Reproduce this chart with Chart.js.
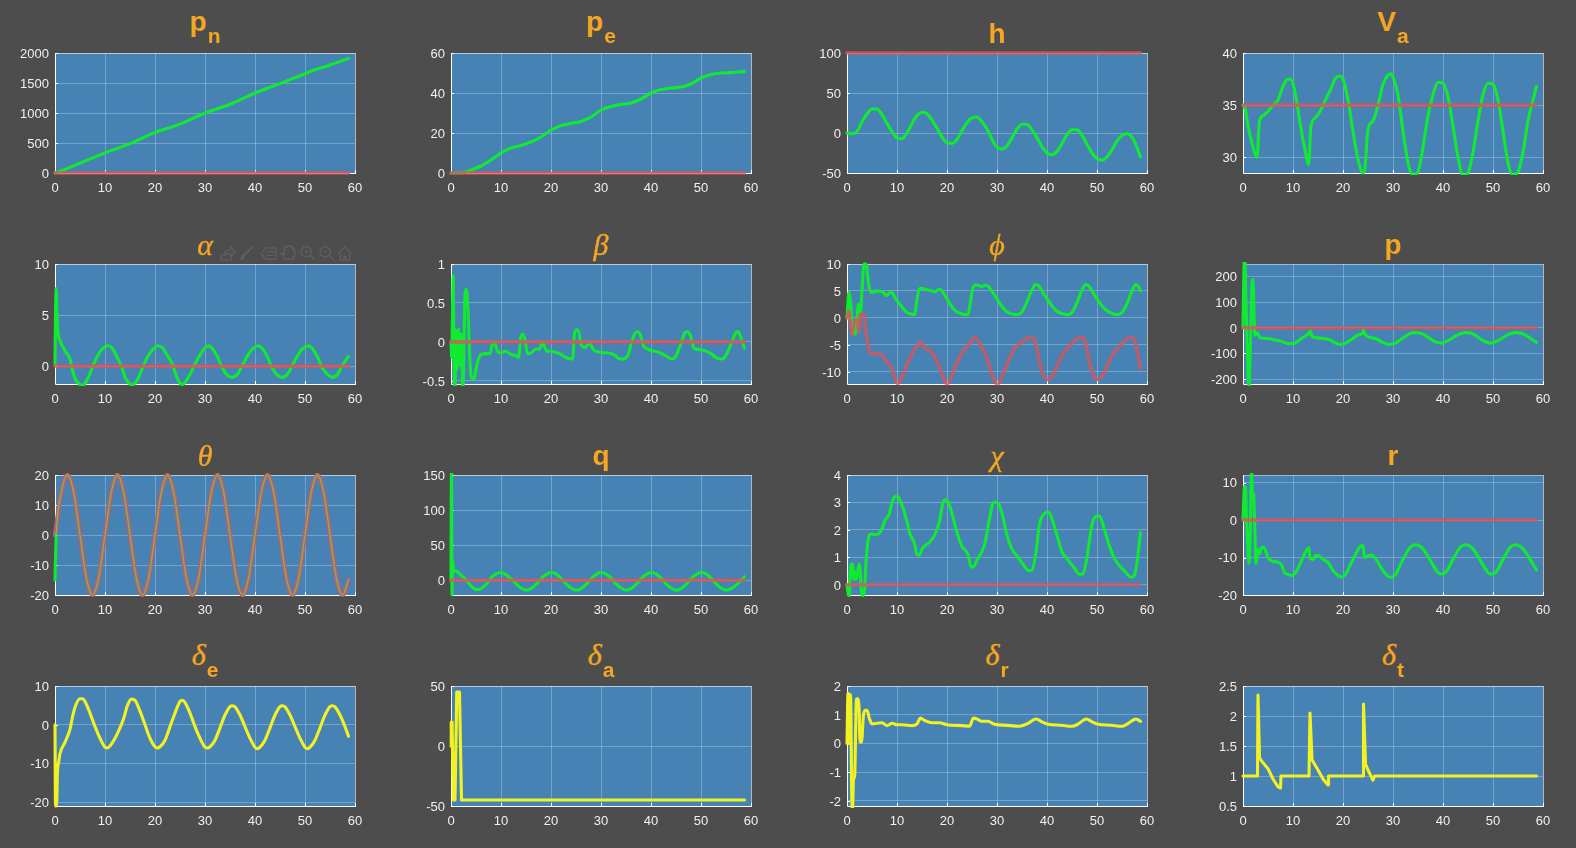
<!DOCTYPE html>
<html>
<head>
<meta charset="utf-8">
<title>UAV states</title>
<script src="https://cdn.jsdelivr.net/npm/chart.js@4"></script>
<style>
html, body { margin: 0; padding: 0; background: #4d4d4d; overflow: hidden; }
#page { position: relative; width: 1576px; height: 848px; }
canvas { position: absolute; }
.ttl { position: absolute; width: 300px; text-align: center; color: #f5a623; white-space: nowrap;
       font: bold 28px/28px "Liberation Sans", Arial, sans-serif; }
.ttl.gr { font: italic 30px/28px "Liberation Serif", serif; -webkit-text-stroke: 0.4px #f5a623; }
.ttl sub { font: bold 21px/21px "Liberation Sans", Arial, sans-serif; position: relative; top: 12px; margin-left: 1px; vertical-align: baseline; -webkit-text-stroke: 0; }
#tools { position: absolute; left: 217px; top: 245px; }
</style>
</head>
<body>
<div id="page"></div>
<script>
// time axis and tick labels
var xTicks = [0, 10, 20, 30, 40, 50, 60];
var endT = [0, 58.7];

// pn
var pnT = [0, 2, 5, 10, 15, 20, 25, 30, 35, 40, 45, 50, 52, 55, 58.7];
var pnV = [0, 60, 165, 335, 490, 677, 815, 1000, 1145, 1333, 1490, 1655, 1720, 1800, 1910];
var pnRef = [0, 0];
var pnTicks = [0, 500, 1000, 1500, 2000];

// pe
var peT = [0, 2, 4, 6, 8, 10, 12, 14, 16, 18, 20, 22, 24, 26, 28, 30, 32, 34, 36, 38, 40, 42, 44, 46, 48, 50, 52, 54, 56, 58.7];
var peV = [0, 0, 1.5, 3.5, 6.5, 10, 12.5, 13.8, 15.5, 18, 21.5, 23.7, 24.8, 25.8, 28, 31.5, 33.3, 34.3, 35, 37, 40, 41.7, 42.5, 43, 44.5, 47.5, 49.3, 50, 50.2, 50.8];
var peRef = [0, 0];
var peTicks = [0, 20, 40, 60];

// h
var hT = [0, 1, 2, 3, 4, 5, 6, 7, 8, 9, 10, 11, 12, 13, 14, 15, 16, 17, 18, 19, 20, 21, 22, 23, 24, 25, 26, 27, 28, 29, 30, 31, 32, 33, 34, 35, 36, 37, 38, 39, 40, 41, 42, 43, 44, 45, 46, 47, 48, 49, 50, 51, 52, 53, 54, 55, 56, 57, 58, 58.7];
var hV = [0, -1, 2, 14, 24, 30, 30, 23, 12, 2, -6, -7, 0, 12, 22, 26, 24, 16, 6, -5, -12, -13, -8, 3, 13, 19, 20, 14, 5, -8, -18, -20, -16, -6, 5, 11, 11, 4, -6, -17, -25, -27, -23, -13, -2, 4, 4, -3, -14, -25, -32, -34, -30, -21, -10, -3, -1, -5, -18, -30];
var hRef = [100, 100];
var hTicks = [-50, 0, 50, 100];

// Va
var vaT = [0, 0.5, 1, 2, 2.8, 3.3, 4, 5, 6, 7, 8, 9, 9.5, 10.5, 11.5, 12.5, 13.1, 13.6, 14.5, 15.5, 16.5, 17.5, 18.5, 19.3, 20, 21, 22, 23, 24, 24.4, 25, 26, 27, 28, 29, 29.5, 30, 31, 32, 33, 34, 35, 36, 37, 38, 39, 40, 41, 42, 43, 44, 45, 46, 47, 48, 49, 50, 51, 52, 53, 54, 55, 56, 57, 58, 58.7];
var vaV = [35, 34.5, 33, 31, 30, 33.5, 34, 34.4, 35, 35.5, 36.8, 37.5, 37.5, 36, 33, 30.5, 29.3, 33, 33.8, 34.5, 35.5, 36.5, 37.6, 37.8, 37.5, 35.5, 32.5, 29.8, 28.5, 29, 32.7, 33.5, 35, 37, 37.9, 38, 37.7, 36, 32.5, 29.5, 28.3, 28.6, 31, 34, 36, 37.2, 37.1, 35.8, 33, 30, 28.3, 28.5, 30.5, 33.5, 36, 37.1, 37, 35.5, 32.5, 29.5, 28.3, 28.6, 30.5, 33.5, 35.5, 36.8];
var vaRef = [35, 35];
var vaTicks = [30, 35, 40];

// alpha
var alphaT = [0, 0.1, 0.25, 0.4, 0.6, 1, 2, 3, 3.5, 4, 5, 5.5, 6, 7, 8, 9, 10, 10.7, 11.5, 12.5, 13.5, 14, 15, 15.5, 16.5, 17.5, 18.5, 19.5, 20.5, 21.5, 22.5, 23.5, 24, 25, 25.5, 26, 27, 28, 29, 30, 30.7, 31.5, 32.5, 33.5, 34.5, 35.5, 36.5, 37.5, 38.5, 39.5, 40.7, 41.5, 42.5, 43.5, 44.5, 45.5, 46.5, 47.5, 48.5, 49.5, 50.7, 51.5, 52.5, 53.5, 54.5, 55.5, 56.5, 57.5, 58.7];
var alphaV = [0.2, 5, 7.6, 5, 3.3, 2.5, 1.5, 0.7, -0.4, -1.2, -1.8, -1.85, -1.7, -0.7, 0.5, 1.4, 1.9, 2, 1.7, 0.8, -0.3, -1.1, -1.75, -1.85, -1.3, -0.2, 0.9, 1.6, 2, 1.8, 1, 0.2, -0.6, -1.7, -1.8, -1.6, -0.8, 0.2, 1.1, 1.8, 2, 1.7, 0.9, -0.2, -0.9, -1.1, -0.8, 0.1, 1, 1.7, 2, 1.7, 0.9, -0.2, -0.9, -1.1, -0.8, 0.1, 1, 1.7, 2, 1.7, 0.9, -0.2, -0.8, -1.1, -0.8, 0.1, 0.95];
var alphaRef = [0, 0];
var alphaTicks = [0, 5, 10];

// beta
var betaT = [0, 0.15, 0.3, 0.45, 0.6, 0.8, 1, 1.2, 1.5, 1.8, 2, 2.4, 2.8, 3.1, 3.4, 3.8, 4.2, 4.6, 5, 5.5, 6, 7, 7.8, 8.3, 8.7, 9.3, 10, 10.8, 12, 13, 13.5, 14, 14.4, 14.8, 15.3, 16, 17, 17.7, 18.3, 19.2, 20, 22, 23, 24.3, 24.7, 25.1, 25.5, 26.2, 26.8, 27.7, 28.5, 29.5, 31, 32.5, 33.5, 34.5, 35.5, 36, 36.7, 37.2, 37.8, 38.5, 39, 40, 41.5, 43, 44.2, 45, 46, 46.8, 47.3, 47.9, 48.6, 50, 52, 53, 54.2, 55, 56, 57, 57.5, 58, 58.7];
var betaV = [0, -0.2, 0.4, 0.85, -0.2, -0.6, 0.15, -0.35, 0.17, -0.3, 0.1, -0.6, 0.6, 0.68, 0.4, -0.25, -0.48, -0.48, -0.35, -0.22, -0.16, -0.15, -0.15, -0.02, -0.01, -0.12, -0.14, -0.12, -0.16, -0.18, -0.2, 0.08, 0.1, 0.03, -0.15, -0.14, -0.09, -0.09, -0.01, -0.12, -0.12, -0.16, -0.2, -0.22, 0.1, 0.16, 0.14, -0.06, -0.07, -0.02, -0.1, -0.13, -0.14, -0.16, -0.21, -0.22, -0.15, -0.03, 0.1, 0.13, 0.1, -0.05, -0.08, -0.11, -0.13, -0.18, -0.22, -0.18, -0.02, 0.12, 0.13, 0.08, -0.08, -0.1, -0.15, -0.2, -0.22, -0.17, -0.03, 0.12, 0.13, 0.05, -0.08];
var betaRef = [0, 0];
var betaTicks = [-0.5, 0, 0.5, 1];

// phi
var phiT = [0, 0.4, 0.7, 1, 1.3, 1.7, 2, 2.3, 2.7, 3, 3.4, 3.8, 4.3, 4.7, 5.2, 6, 6.7, 7.3, 7.9, 8.6, 9, 9.6, 11, 12, 13, 13.5, 14, 14.5, 15, 16, 17, 17.5, 18.5, 19, 20, 21, 22, 23, 24.2, 24.7, 25.3, 26, 26.8, 27.8, 28.5, 30, 31, 32, 33, 34, 35, 36, 37, 37.7, 38.3, 39, 40, 41, 42, 43, 44, 45, 46, 47, 47.8, 48.3, 49, 50, 51, 52, 53, 54, 55, 56, 57, 57.8, 58.3, 58.7];
var phiV = [0, 4.8, 3, -1, -3, -3, 0, 2.5, 1, 5, 10, 10, 6.5, 4.8, 4.7, 5, 4.9, 4.7, 4.1, 4.7, 4.7, 3.7, 2, 1, 0.7, 0.6, 3.5, 5.4, 5.5, 5.2, 5, 4.8, 5.3, 5, 3.5, 2, 1.1, 0.7, 0.6, 3, 5.9, 6.1, 5.8, 6.1, 5.6, 3.5, 2.1, 1.1, 0.7, 0.6, 1.1, 3, 5.2, 6.2, 6, 5, 3.5, 2.2, 1.2, 0.8, 0.6, 1, 2.8, 5.2, 6.2, 6, 5, 3.5, 2.2, 1.3, 0.8, 0.6, 1, 2.6, 5, 6.2, 5.8, 5];
var phiRefT = [0, 0.4, 0.7, 1, 1.3, 1.7, 2, 2.4, 2.7, 3, 3.4, 3.8, 4.3, 4.7, 5.5, 6, 7, 8, 9, 9.5, 10, 10.5, 11, 12, 13, 14, 14.6, 15.5, 17, 18, 19, 20, 20.5, 21.5, 22.5, 24, 25, 25.5, 26, 27, 28, 29, 30, 30.5, 31.5, 32.5, 33.5, 35, 36, 37, 37.5, 38, 39, 40, 41, 42, 43, 44, 45, 46, 47, 47.5, 48, 49, 50, 51, 52, 53, 54, 55, 56, 56.8, 57.5, 58, 58.7];
var phiRef = [0, 1.2, -1, -3.2, -1.5, -0.5, -0.3, -2.7, 0.5, 0.8, 0.5, -2.5, -5.5, -6.6, -6.7, -6.6, -7, -8.2, -9.5, -11, -12.2, -12, -11, -8.7, -6.7, -5.3, -4.5, -5.5, -6.5, -8, -10.5, -12.3, -11.8, -9.5, -7.3, -5.3, -4.3, -3.6, -4, -5.5, -7.5, -10.5, -12.3, -12, -9.8, -7.5, -5.7, -4.5, -3.8, -3.6, -4, -6, -10, -11.5, -11, -9, -7, -5.7, -4.7, -3.9, -3.6, -4, -6, -10, -11.4, -10.9, -9, -7, -5.8, -4.8, -3.9, -3.6, -4, -6, -9.5];
var phiTicks = [-10, -5, 0, 5, 10];

// p
var pT = [0, 0.3, 0.6, 1, 1.2, 1.5, 1.8, 1.95, 2.4, 2.8, 3.2, 3.5, 5, 7, 8, 9, 10, 11, 12, 13, 13.5, 13.7, 14.2, 16, 17.5, 18.5, 19.5, 20.5, 22, 23, 24, 24.1, 24.3, 25, 26.5, 28, 29.3, 30.5, 32, 33.5, 34.5, 36, 38, 39.5, 41, 43, 44.5, 46, 48, 49.5, 51, 53, 54.5, 56, 58, 58.7];
var pV = [0, 300, 100, -180, -225, -50, 175, 188, -30, -20, -32, -40, -42, -50, -55, -62, -62, -52, -38, -25, -12, -30, -37, -42, -48, -60, -65, -60, -42, -28, -18, -8, -22, -35, -42, -58, -65, -60, -40, -22, -19, -25, -50, -60, -50, -27, -19, -24, -50, -60, -50, -27, -19, -24, -48, -57];
var pRef = [0, 0];
var pTicks = [-200, -100, 0, 100, 200];

// theta
var thetaRefT = [0, 1.25, 2.5, 3.75, 5, 6.25, 7.5, 8.75, 10, 11.25, 12.5, 13.75, 15, 16.25, 17.5, 18.75, 20, 21.25, 22.5, 23.75, 25, 26.25, 27.5, 28.75, 30, 31.25, 32.5, 33.75, 35, 36.25, 37.5, 38.75, 40, 41.25, 42.5, 43.75, 45, 46.25, 47.5, 48.75, 50, 51.25, 52.5, 53.75, 55, 56.25, 57.5, 58.7];
var thetaRef = [0, 14.1, 20, 14.1, 0, -14.1, -20, -14.1, 0, 14.1, 20, 14.1, 0, -14.1, -20, -14.1, 0, 14.1, 20, 14.1, 0, -14.1, -20, -14.1, 0, 14.1, 20, 14.1, 0, -14.1, -20, -14.1, 0, 14.1, 20, 14.1, 0, -14.1, -20, -14.1, 0, 14.1, 20, 14.1, 0, -14.1, -20, -15];
var thetaT = [0, 0.1, 0.25, 1.25, 2.5, 3.75, 5, 6.25, 7.5, 8.75, 10, 11.25, 12.5, 13.75, 15, 16.25, 17.5, 18.75, 20, 21.25, 22.5, 23.75, 25, 26.25, 27.5, 28.75, 30, 31.25, 32.5, 33.75, 35, 36.25, 37.5, 38.75, 40, 41.25, 42.5, 43.75, 45, 46.25, 47.5, 48.75, 50, 51.25, 52.5, 53.75, 55, 56.25, 57.5, 58.7];
var thetaV = [-15, -8, 0, 14, 20, 14.1, 0, -14.1, -20, -14.1, 0, 14.1, 20, 14.1, 0, -14.1, -20, -14.1, 0, 14.1, 20, 14.1, 0, -14.1, -20, -14.1, 0, 14.1, 20, 14.1, 0, -14.1, -20, -14.1, 0, 14.1, 20, 14.1, 0, -14.1, -20, -14.1, 0, 14.1, 20, 14.1, 0, -14.1, -20, -15];
var thetaTicks = [-20, -10, 0, 10, 20];

// q
var qT = [0, 0.1, 0.2, 0.3, 0.5, 1, 2, 3, 4, 5, 5.5, 6, 7, 8, 9, 10, 11, 12, 13, 14, 15, 16, 17, 18, 19, 20, 21, 22, 23, 24, 25, 26, 27, 28, 29, 30, 31, 32, 33, 34, 35, 36, 37, 38, 39, 40, 41, 42, 43, 44, 45, 46, 47, 48, 49, 50, 51, 52, 53, 54, 55, 56, 57, 58, 58.7];
var qV = [0, 160, -21, 30, 14, 13, 7, 1, -8, -13, -13, -12, -6, 3, 9, 11, 8, 2, -5, -11, -14, -12, -6, 2, 8, 11, 9, 3, -5, -11, -14, -12, -6, 2, 8, 11, 9, 3, -5, -11, -14, -12, -6, 2, 8, 11, 9, 3, -5, -11, -14, -12, -6, 2, 8, 11, 9, 3, -5, -11, -14, -12, -7, 0, 5];
var qRef = [0, 0];
var qTicks = [0, 50, 100, 150];

// chi
var chiT = [0, 0.3, 0.5, 0.6, 0.9, 1.1, 1.3, 1.5, 1.7, 2, 2.4, 2.6, 2.9, 3.2, 3.5, 3.8, 4.2, 4.6, 5, 5.5, 6.3, 7, 7.6, 8.4, 9, 9.6, 10.2, 11, 12, 12.5, 13.5, 14, 14.5, 15, 15.8, 16.5, 17.5, 18.5, 19.2, 19.8, 20.3, 21, 22, 23, 24.2, 24.8, 25.3, 26, 27.5, 28.5, 29.3, 30, 31, 32, 33, 34, 35, 36.3, 37, 37.8, 38.5, 39.5, 40.2, 41, 42, 43, 44, 45.5, 46.5, 47.2, 48, 49, 50, 50.5, 51.5, 52.5, 53.5, 54.5, 56, 56.8, 57.5, 58, 58.7];
var chiV = [0, -0.4, -0.4, 0.3, 0.75, 0.75, 0.2, 0.5, 0.2, 0.3, 0.75, 0.6, -0.3, -0.4, -0.2, 0.8, 1.6, 1.83, 1.85, 1.82, 1.85, 2.05, 2.35, 2.55, 3, 3.22, 3.2, 2.9, 2.3, 1.9, 1.5, 1.1, 1.08, 1.3, 1.45, 1.55, 1.8, 2.3, 3, 3.1, 3, 2.6, 1.9, 1.4, 1.1, 0.65, 0.65, 0.9, 1.45, 2.4, 3, 3, 2.6, 1.8, 1.3, 1.05, 0.8, 0.52, 0.53, 1.2, 2.2, 2.6, 2.65, 2.4, 1.8, 1.2, 0.95, 0.6, 0.38, 0.4, 1, 2.2, 2.5, 2.5, 2, 1.4, 0.95, 0.7, 0.4, 0.27, 0.35, 0.8, 1.9];
var chiRef = [0, 0];
var chiTicks = [0, 1, 2, 3, 4];

// r
var rT = [0, 0.3, 0.5, 0.7, 1, 1.2, 1.5, 1.7, 1.9, 2.1, 2.4, 2.6, 3, 3.3, 3.8, 4.3, 5, 6, 7, 7.7, 8.3, 9, 9.7, 10.5, 11.5, 12.5, 13.2, 13.4, 14, 14.6, 15.3, 16, 17, 18, 19, 19.6, 20.5, 22, 23.5, 24, 24.3, 25, 25.6, 26.5, 28, 29.5, 30.5, 32, 33.5, 34.5, 36, 38, 39.5, 40.5, 42, 43.5, 44.5, 46, 48, 49.5, 50.5, 52, 53.5, 54.5, 56, 58, 58.7];
var rV = [0, 9, 8.5, 0, -8, -11.5, 0, 13, 7, 7, -4, -11.7, -7.8, -9, -7.2, -7.5, -10, -11, -11.3, -12, -14, -14.5, -14.8, -14, -11.5, -8.5, -7.4, -10.3, -10.5, -9.4, -9.6, -10.5, -11.3, -13.5, -14.8, -15.2, -14.5, -10.5, -7, -6.8, -10, -9.6, -9.3, -10.3, -13.5, -15.3, -14.5, -10.5, -7.2, -6.6, -7.7, -12, -14.4, -14, -10.5, -7.2, -6.6, -7.7, -12, -14.4, -14, -10.5, -7.2, -6.6, -7.7, -11.8, -13.3];
var rRef = [0, 0];
var rTicks = [-20, -10, 0, 10];

// de
var deT = [0, 0.1, 0.3, 0.5, 0.7, 1, 2, 3, 3.5, 4, 5, 5.5, 6, 7, 8, 9, 10, 10.5, 11, 12, 13, 13.7, 14.5, 15.3, 16, 17, 18, 19, 20, 20.5, 21, 22, 23, 24, 25, 25.5, 26, 27, 28, 29, 30, 30.5, 31, 32, 33, 34, 35, 35.5, 36, 37, 38, 39, 40, 40.5, 41, 42, 43, 44, 45, 45.5, 46, 47, 48, 49, 50, 50.5, 51, 52, 53, 54, 55, 55.5, 56, 57, 58, 58.7];
var deV = [0, -21, -21, -12, -10, -7.5, -4.5, -1.2, 2, 4.5, 6.7, 6.7, 6, 3, -0.5, -3.5, -5.8, -6, -5.5, -3.5, -0.8, 1.5, 5, 6.6, 6.3, 3.5, 0, -3.5, -5.7, -6, -5.7, -4, -0.5, 3, 6, 6.3, 5.7, 3, -0.5, -3.5, -5.8, -6, -5.7, -4, -0.8, 2.5, 4.7, 4.9, 4.6, 2.5, -0.5, -3.5, -5.8, -6.2, -5.8, -4, -0.8, 2.5, 4.7, 4.9, 4.6, 2.5, -0.5, -3.5, -5.8, -6.2, -5.8, -4, -0.8, 2.5, 4.7, 4.9, 4.6, 2.5, -0.5, -3];
var deTicks = [-20, -10, 0, 10];

// da
var daT = [0, 0.05, 0.2, 0.5, 0.8, 1.15, 1.7, 2.1, 58.7];
var daV = [0, 20, 20, -45, -45, 45, 45, -45, -45];
var daTicks = [-50, 0, 50];

// dr
var drT = [0, 0.2, 0.4, 0.5, 0.7, 1, 1.1, 1.3, 1.5, 1.9, 2.1, 2.4, 2.6, 2.9, 3.3, 3.7, 4, 4.5, 5, 6, 7, 8, 9, 10, 11, 13, 14, 14.7, 15.5, 17, 18.5, 20, 23, 24.5, 25.3, 26, 27, 28.2, 29.5, 32, 34.5, 36, 37.8, 39, 40, 43, 45, 46, 47.9, 49, 50, 53, 55, 56, 57.8, 58.7];
var drV = [0, 1.75, 0, 1.7, 1.7, -2.2, -2.3, -1.2, -1.2, 1.55, 1.55, 1.3, 0.05, 0.05, 1, 1.15, 1.15, 0.85, 0.68, 0.7, 0.72, 0.62, 0.7, 0.65, 0.65, 0.62, 0.68, 0.88, 0.8, 0.72, 0.72, 0.65, 0.62, 0.6, 0.88, 0.85, 0.77, 0.77, 0.67, 0.63, 0.6, 0.68, 0.85, 0.75, 0.68, 0.63, 0.6, 0.65, 0.85, 0.75, 0.68, 0.63, 0.6, 0.67, 0.85, 0.77];
var drTicks = [-2, -1, 0, 1, 2];

// dt
var dtT = [0, 2.9, 3, 3.3, 4, 5, 6, 7, 7.5, 7.6, 13.2, 13.4, 13.8, 15, 16, 17, 17.1, 24, 24.1, 24.5, 25, 26, 26.3, 58.7];
var dtV = [1, 1, 2.35, 1.3, 1.22, 1.12, 0.95, 0.82, 0.8, 1, 1, 2.05, 1.27, 1.1, 0.95, 0.85, 1, 1, 2.2, 1.2, 1.1, 0.93, 1, 1];
var dtTicks = [0.5, 1, 1.5, 2, 2.5];

var GREEN = '#10ea30';
var RED = 'rgba(218,85,87,0.78)';
var YELLOW = '#f2f222';
var BLEND = '#7fb850'; // green seen through the red one in the theta panel

var colX = [55, 451, 847, 1243];
var rowY = [53, 264, 475, 686];

var panels = [
    { name: 'p', sub: 'n', min: 0, max: 2000, ticks: pnTicks, t: pnT, v: pnV, refT: endT, ref: pnRef },
    { name: 'p', sub: 'e', min: 0, max: 60, ticks: peTicks, t: peT, v: peV, refT: endT, ref: peRef },
    { name: 'h', min: -50, max: 100, ticks: hTicks, t: hT, v: hV, refT: endT, ref: hRef },
    { name: 'V', sub: 'a', min: 28.5, max: 40, ticks: vaTicks, t: vaT, v: vaV, refT: endT, ref: vaRef },

    { name: 'α', greek: true, min: -1.75, max: 10, ticks: alphaTicks, t: alphaT, v: alphaV, refT: endT, ref: alphaRef },
    { name: 'β', greek: true, min: -0.54, max: 1, ticks: betaTicks, t: betaT, v: betaV, refT: endT, ref: betaRef },
    { name: 'ϕ', greek: true, min: -12.3, max: 10, ticks: phiTicks, t: phiT, v: phiV, refT: phiRefT, ref: phiRef },
    { name: 'p', min: -219, max: 248, ticks: pTicks, t: pT, v: pV, refT: endT, ref: pRef },

    { name: 'θ', greek: true, overlay: true, min: -20, max: 20, ticks: thetaTicks, t: thetaT, v: thetaV, refT: thetaRefT, ref: thetaRef },
    { name: 'q', min: -21, max: 150, ticks: qTicks, t: qT, v: qV, refT: endT, ref: qRef },
    { name: 'χ', greek: true, min: -0.375, max: 4, ticks: chiTicks, t: chiT, v: chiV, refT: endT, ref: chiRef },
    { name: 'r', min: -20, max: 12, ticks: rTicks, t: rT, v: rV, refT: endT, ref: rRef },

    { name: 'δ', sub: 'e', greek: true, min: -21, max: 10, ticks: deTicks, t: deT, v: deV, color: YELLOW },
    { name: 'δ', sub: 'a', greek: true, min: -50, max: 50, ticks: daTicks, t: daT, v: daV, color: YELLOW, sharp: true },
    { name: 'δ', sub: 'r', greek: true, min: -2.18, max: 2, ticks: drTicks, t: drT, v: drV, color: YELLOW },
    { name: 'δ', sub: 't', greek: true, min: 0.5, max: 2.5, ticks: dtTicks, t: dtT, v: dtV, color: YELLOW, sharp: true }
];

// blue plot background, light top/right edge, white left/bottom axes with inward ticks
var framePlugin = {
    id: 'frame',
    beforeDraw: function (chart) {
        var a = chart.chartArea;
        chart.ctx.fillStyle = '#4682b4';
        chart.ctx.fillRect(a.left, a.top, a.right - a.left, a.bottom - a.top);
    },
    beforeDatasetsDraw: function (chart) {
        var c = chart.ctx, a = chart.chartArea;
        c.save();
        c.lineWidth = 1;
        c.strokeStyle = 'rgba(255,255,255,0.45)';
        c.beginPath();
        c.moveTo(a.left, a.top + 0.5); c.lineTo(a.right + 0.5, a.top + 0.5);
        c.moveTo(a.right + 0.5, a.top); c.lineTo(a.right + 0.5, a.bottom);
        c.stroke();
        c.strokeStyle = '#ffffff';
        c.beginPath();
        c.moveTo(a.left + 0.5, a.top); c.lineTo(a.left + 0.5, a.bottom + 0.5);
        c.lineTo(a.right + 1, a.bottom + 0.5);
        chart.scales.x.ticks.forEach(function (t) {
            var x = Math.round(chart.scales.x.getPixelForValue(t.value)) + 0.5;
            c.moveTo(x, a.bottom); c.lineTo(x, a.bottom - 3);
        });
        chart.scales.y.ticks.forEach(function (t) {
            var y = Math.round(chart.scales.y.getPixelForValue(t.value)) + 0.5;
            c.moveTo(a.left, y); c.lineTo(a.left + 3, y);
        });
        c.stroke();
        c.restore();
    }
};

function points(t, v) {
    return t.map(function (x, i) { return { x: x, y: v[i] }; });
}

function setTicks(values) {
    return function (scale) {
        scale.ticks = values.map(function (v) { return { value: v }; });
    };
}

// keep the plot area fixed whatever the tick labels measure
function fixBox(scale, w, h) {
    if (w) scale.width = w;
    if (h) scale.height = h;
    scale.paddingTop = scale.paddingBottom = scale.paddingLeft = scale.paddingRight = 0;
}

var page = document.getElementById('page');

panels.forEach(function (p, i) {
    var left = colX[i % 4], top = rowY[Math.floor(i / 4)];

    var canvas = document.createElement('canvas');
    canvas.width = 365;
    canvas.height = 156;
    canvas.style.left = (left - 50) + 'px';
    canvas.style.top = (top - 8) + 'px';
    page.appendChild(canvas);

    var title = document.createElement('div');
    title.className = p.greek ? 'ttl gr' : 'ttl';
    title.style.left = left + 'px';
    title.style.top = (top - (p.sub ? 23 : 11) - 22) + 'px';
    title.innerHTML = p.name + (p.sub ? '<sub>' + p.sub + '</sub>' : '');
    page.appendChild(title);

    var main = {
        data: points(p.t, p.v),
        borderColor: p.color || GREEN,
        borderWidth: 3.1,
        order: 2
    };
    if (p.overlay) {
        // first moments stay thick and bright, the rest is a thin core inside the red line
        main.order = 0;
        main.borderWidth = 1.3;
        main.borderColor = BLEND;
        main.segment = {
            borderColor: function (ctx) { return ctx.p1.parsed.x <= 0.25 ? GREEN : BLEND; },
            borderWidth: function (ctx) { return ctx.p1.parsed.x <= 0.25 ? 3.1 : 1.3; }
        };
    }
    var datasets = [main];
    if (p.ref) {
        datasets.push({
            data: points(p.refT, p.ref),
            borderColor: p.overlay ? '#b8606c' : RED,
            borderWidth: p.overlay ? 4.4 : 3.6,
            order: 1
        });
    }
    datasets.forEach(function (d) {
        d.pointRadius = 0;
        d.clip = 2;
        d.borderJoinStyle = 'round';
        d.borderCapStyle = 'round';
        if (!p.sharp) d.cubicInterpolationMode = 'monotone';
    });

    new Chart(canvas.getContext('2d'), {
        type: 'line',
        data: { datasets: datasets },
        plugins: [framePlugin],
        options: {
            responsive: false,
            animation: false,
            events: [],
            layout: { padding: { top: 8, right: 15, left: 0, bottom: 0 } },
            plugins: { legend: { display: false }, tooltip: { enabled: false }, title: { display: false } },
            scales: {
                x: {
                    type: 'linear',
                    min: 0,
                    max: 60,
                    afterBuildTicks: setTicks(xTicks),
                    afterFit: function (s) { fixBox(s, 0, 28); },
                    grid: { color: 'rgba(255,255,255,0.26)', drawTicks: false },
                    border: { display: false },
                    ticks: {
                        color: '#f0f0f0', padding: 8, maxRotation: 0, autoSkip: false,
                        font: { family: '"Liberation Sans", Arial, sans-serif', size: 13 },
                        callback: function (v) { return String(v); }
                    }
                },
                y: {
                    type: 'linear',
                    min: p.min,
                    max: p.max,
                    afterBuildTicks: setTicks(p.ticks),
                    afterFit: function (s) { fixBox(s, 50, 0); },
                    grid: { color: 'rgba(255,255,255,0.26)', drawTicks: false },
                    border: { display: false },
                    ticks: {
                        color: '#f0f0f0', padding: 6, autoSkip: false,
                        // blank first line with a small line height nudges the label down about 1px
                        font: { family: '"Liberation Sans", Arial, sans-serif', size: 13, lineHeight: 0.2 },
                        callback: function (v) { return ['', String(v)]; }
                    }
                }
            }
        }
    });
});

// faint axes toolbar sitting over the alpha panel
var tools = document.createElement('div');
tools.id = 'tools';
tools.innerHTML = '<svg width="137" height="17" viewBox="0 0 140 18" fill="none" stroke="#5e5e5e" stroke-width="1.5">' +
    '<path d="M2 9v7h11v-4M5 11c1-4 4-6 7-6V2l5 5-5 5V9c-3 0-5 1-7 2z"/>' +
    '<path d="M22 16c3 0 4-1 5-4l9-10-1-1-10 9c-2 1-3 3-3 6z" fill="#5e5e5e" stroke="none"/>' +
    '<path d="M44 9l5-6h11v12H49zM50 7h8M50 11h8"/>' +
    '<path d="M65 9c2 0 4 3 4 6h9c2-3 2-6 2-9 0-2-2-2-2 0V3c0-2-3-2-3 0V2c0-2-3-2-3 0v1c0-2-3-2-3 0v7c-1-1-3-2-4-1z"/>' +
    '<circle cx="92" cy="7" r="5.5"/><path d="M96 11l5 5M90 7h4M92 5v4"/>' +
    '<circle cx="112" cy="7" r="5.5"/><path d="M116 11l5 5M110 7h4"/>' +
    '<path d="M126 9l7-7 7 7M128 9v7h10V9M132 16v-4h2v4"/>' +
    '</svg>';
page.appendChild(tools);
</script>
</body>
</html>
